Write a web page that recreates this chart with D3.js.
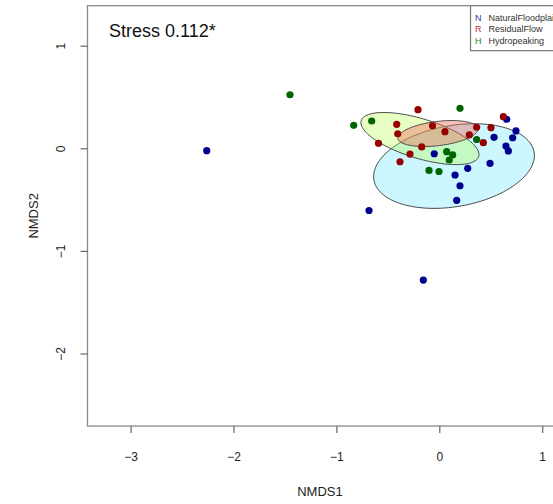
<!DOCTYPE html>
<html><head><meta charset="utf-8">
<script src="https://cdn.jsdelivr.net/npm/d3@7"></script>
<style>
body{margin:0;background:#fff}
svg{display:block}
text{font-family:"Liberation Sans",Arial,Helvetica,sans-serif}
</style>
</head><body>
<svg id="c" width="553" height="504"></svg>
<script>
// ---- data ----
const groups = ["NaturalFloodplain", "ResidualFlow", "Hydropeaking"];
const groupCodes = ["N", "R", "H"];
const groupColors = ["#00008f", "#960000", "#006400"];
const legendCodeColors = ["#3333aa", "#c83030", "#2a8a2a"];

const naturalX = [-2.260, -0.683, -0.155, -0.049, 0.655, 0.532, 0.745, 0.713, 0.648, 0.671, 0.493, 0.276, 0.153, 0.201, 0.169];
const naturalY = [-0.023, -0.606, -1.284, -0.053, 0.283, 0.107, 0.169, 0.103, 0.022, -0.026, -0.146, -0.195, -0.260, -0.365, -0.507];

const residualX = [-0.207, -0.414, -0.404, -0.066, -0.591, -0.171, -0.285, -0.382, 0.622, 0.055, 0.363, 0.502, 0.292, 0.428];
const residualY = [0.376, 0.234, 0.142, 0.220, 0.049, 0.013, -0.056, -0.131, 0.308, 0.162, 0.205, 0.201, 0.130, 0.055];

const hydroX = [-1.451, -0.657, -0.832, -0.100, -0.003, 0.201, 0.363, 0.072, 0.130, 0.097];
const hydroY = [0.522, 0.266, 0.224, -0.216, -0.226, 0.390, 0.086, -0.033, -0.065, -0.114];

// ellipse parameters per group (centre, semi-axes, rotation in degrees), NMDS units
const ellipseCX = [0.143, -0.013, -0.188];
const ellipseCY = [-0.173, 0.144, 0.095];
const ellipseA = [0.79, 0.392, 0.597];
const ellipseB = [0.395, 0.118, 0.193];
const ellipseAngle = [10, 7, -17];
const ellipseFill = ["#cdf7ff", "rgb(240,105,90)", "rgb(180,255,60)"];
const ellipseOpacity = [1, 0.42, 0.3];

const xTicks = [-3, -2, -1, 0, 1];
const yTicks = [-2, -1, 0, 1];
const xLim = [-3.419, 1.5];
const yLim = [-2.707, 1.39];
const stressLabel = "Stress 0.112*";
const xTitle = "NMDS1", yTitle = "NMDS2";

// ---- drawing ----
const svg = d3.select("#c");
const x = d3.scaleLinear().domain([-3, 1]).range([130.6, 542.2]);
const y = d3.scaleLinear().domain([-2, 1]).range([353.5, 45.7]);

const pL = x(xLim[0]), pR = x(xLim[1]), pT = y(yLim[1]), pB = y(yLim[0]);

svg.append("clipPath").attr("id", "clip").append("rect")
  .attr("x", pL).attr("y", pT).attr("width", pR - pL).attr("height", pB - pT);

const plot = svg.append("g").attr("clip-path", "url(#clip)");

// ellipses: natural first, then hydropeaking, then residual on top
const order = [0, 2, 1];
const line = d3.line().x(d => x(d[0])).y(d => y(d[1]));
order.forEach(i => {
  const th = ellipseAngle[i] * Math.PI / 180;
  const pts = d3.range(0, 121).map(k => {
    const t = k / 120 * 2 * Math.PI;
    const ex = ellipseA[i] * Math.cos(t), ey = ellipseB[i] * Math.sin(t);
    return [ellipseCX[i] + ex * Math.cos(th) - ey * Math.sin(th),
            ellipseCY[i] + ex * Math.sin(th) + ey * Math.cos(th)];
  });
  plot.append("path").attr("d", line(pts) + "Z")
    .attr("fill", ellipseFill[i]).attr("fill-opacity", ellipseOpacity[i])
    .attr("stroke", "#4a4a4a").attr("stroke-width", 1);
});

// points
const series = [[naturalX, naturalY], [residualX, residualY], [hydroX, hydroY]];
series.forEach((s, gi) => {
  plot.append("g").selectAll("circle").data(s[0].map((v, k) => [v, s[1][k]]))
    .join("circle")
    .attr("cx", d => x(d[0])).attr("cy", d => y(d[1])).attr("r", 3.6)
    .attr("fill", groupColors[gi]);
});

// box
svg.append("rect").attr("x", pL).attr("y", pT).attr("width", pR - pL).attr("height", pB - pT)
  .attr("fill", "none").attr("stroke", "#8a8a8a").attr("stroke-width", 1.3);

// x axis
const xAxis = d3.axisBottom(x).tickValues(xTicks).tickSize(7).tickPadding(19).tickFormat(d3.format("d"));
const gx = svg.append("g").attr("transform", `translate(0,${pB})`).call(xAxis);
gx.select(".domain").remove();
gx.selectAll("line").attr("stroke", "#666").attr("stroke-width", 1.2);
gx.selectAll("text").attr("font-size", 12).attr("fill", "#222").attr("font-family", "Liberation Sans, Arial, sans-serif");

// y axis
const yAxis = d3.axisLeft(y).tickValues(yTicks).tickSize(7).tickFormat(d3.format("d"));
const gy = svg.append("g").attr("transform", `translate(${pL},0)`).call(yAxis);
gy.select(".domain").remove();
gy.selectAll("line").attr("stroke", "#666").attr("stroke-width", 1.2);
gy.selectAll("text").attr("font-size", 12).attr("fill", "#222")
  .attr("font-family", "Liberation Sans, Arial, sans-serif")
  .attr("text-anchor", "middle").attr("x", 0).attr("dy", "0.35em")
  .attr("transform", "translate(-27,0) rotate(-90)");

// titles
svg.append("text").attr("x", 320).attr("y", 496).attr("text-anchor", "middle")
  .attr("font-size", 13).attr("fill", "#222").text(xTitle);
svg.append("text").attr("transform", `translate(38,${(pT + pB) / 2}) rotate(-90)`)
  .attr("text-anchor", "middle").attr("font-size", 13).attr("fill", "#222").text(yTitle);

// stress
svg.append("text").attr("x", 109).attr("y", 37).attr("font-size", 18).attr("fill", "#111").text(stressLabel);

// legend
const lg = svg.append("g");
lg.append("rect").attr("x", 470.5).attr("y", pT).attr("width", 110).attr("height", 45)
  .attr("fill", "#fff").attr("stroke", "#777").attr("stroke-width", 1.2);
groups.forEach((g, i) => {
  lg.append("text").attr("x", 475).attr("y", 20.5 + i * 11.5).attr("font-size", 9)
    .attr("fill", legendCodeColors[i]).text(groupCodes[i]);
  lg.append("text").attr("x", 488.5).attr("y", 20.5 + i * 11.5).attr("font-size", 9)
    .attr("fill", "#333").text(g);
});
</script>
</body></html>
